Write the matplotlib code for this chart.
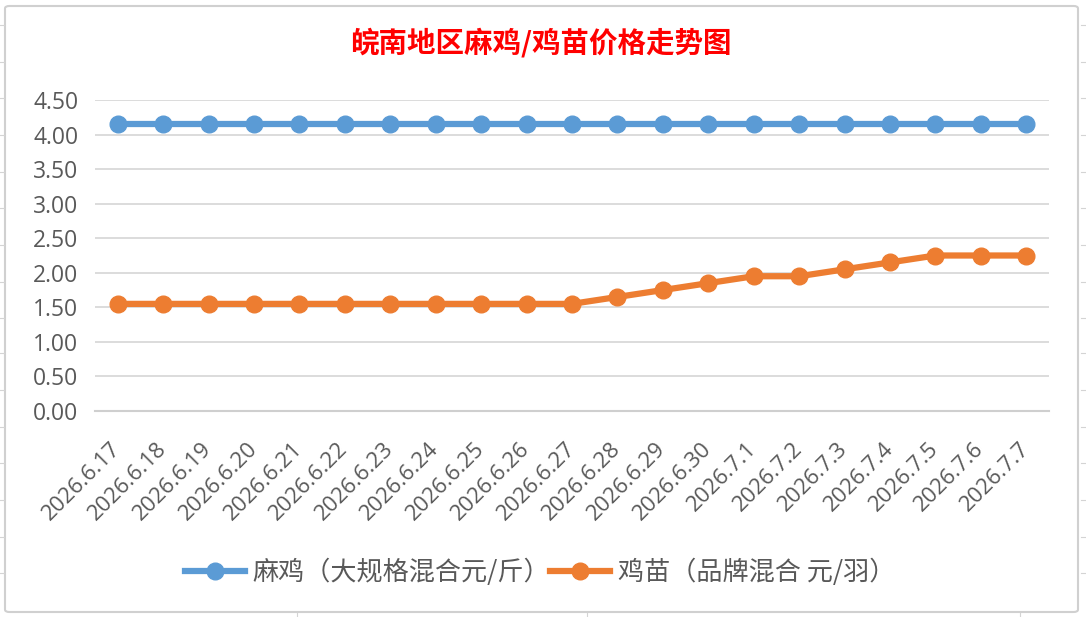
import matplotlib
matplotlib.use('Agg')
import matplotlib.pyplot as plt
import matplotlib.transforms as mtransforms
from matplotlib.patches import FancyBboxPatch
from matplotlib.lines import Line2D

plt.rcParams['font.family'] = ['Open Sans', 'Noto Sans CJK SC', 'DejaVu Sans']

dates = ['2026.6.17', '2026.6.18', '2026.6.19', '2026.6.20', '2026.6.21', '2026.6.22',
         '2026.6.23', '2026.6.24', '2026.6.25', '2026.6.26', '2026.6.27', '2026.6.28',
         '2026.6.29', '2026.6.30', '2026.7.1', '2026.7.2', '2026.7.3', '2026.7.4',
         '2026.7.5', '2026.7.6', '2026.7.7']
maji = [4.15] * 21
jimiao = [1.55, 1.55, 1.55, 1.55, 1.55, 1.55, 1.55, 1.55, 1.55, 1.55, 1.55,
          1.65, 1.75, 1.85, 1.95, 1.95, 2.05, 2.15, 2.25, 2.25, 2.25]
yticks = [0.0, 0.5, 1.0, 1.5, 2.0, 2.5, 3.0, 3.5, 4.0, 4.5]

W, H = 1086, 617
fig = plt.figure(figsize=(W / 100, H / 100), dpi=100)

# spreadsheet cell lines peeking out around the chart
cell_y = [25, 62, 98, 135, 172, 208, 245, 282, 318, 353, 390, 427, 463, 500, 537, 573]
for cy in cell_y:
    fig.add_artist(Line2D([0, 4 / W], [1 - cy / H] * 2, color='#d4d4d4', lw=0.8))
    fig.add_artist(Line2D([1081 / W, 1], [1 - cy / H] * 2, color='#d4d4d4', lw=0.8))
for cx in [297, 587, 1020]:
    fig.add_artist(Line2D([cx / W] * 2, [0, 4 / H], color='#d4d4d4', lw=0.8))

# chart area border
border = FancyBboxPatch((5 / W, 5 / H), 1073 / W, 606 / H,
                        boxstyle='round,pad=0,rounding_size=0.004',
                        transform=fig.transFigure, facecolor='white',
                        edgecolor='#d0d0d0', lw=1.5, zorder=0)
fig.add_artist(border)

ax = fig.add_axes([95 / W, 1 - 411 / H, 954 / W, 311 / H])
ax.set_facecolor('none')
x = list(range(len(dates)))
ax.plot(x, maji, color='#5B9BD5', lw=4.5, marker='o', markersize=12,
        label='麻鸡（大规格混合元/斤）', zorder=3)
ax.plot(x, jimiao, color='#ED7D31', lw=4.5, marker='o', markersize=12,
        label='鸡苗（品牌混合 元/羽）', zorder=3)

ax.set_xlim(-0.5, len(dates) - 0.5)
ax.set_ylim(0, 4.5)
ax.set_yticks(yticks)
ax.set_yticklabels(['%.2f' % v for v in yticks], fontsize=16.5, color='#595959')
ax.set_xticks(x)
ax.set_xticklabels(dates, rotation=45, ha='right', va='center', rotation_mode='anchor',
                   fontsize=16, color='#595959')
shift = mtransforms.ScaledTranslation(10 / 100, 0, fig.dpi_scale_trans)
for lab in ax.get_xticklabels():
    lab.set_transform(lab.get_transform() + shift)
ax.tick_params(axis='y', length=0, pad=12)
ax.tick_params(axis='x', length=0, pad=25)
ax.grid(axis='y', color='#d9d9d9', lw=1.3)
ax.set_axisbelow(True)
for s in ['top', 'right', 'left']:
    ax.spines[s].set_visible(False)
ax.spines['bottom'].set_color('#cfcfcf')
ax.spines['bottom'].set_linewidth(1.5)

fig.text(541 / W, 1 - 43 / H, '皖南地区麻鸡/鸡苗价格走势图', ha='center', va='center',
         fontsize=20.5, color='#ff0000', fontweight='bold',
         family=['Noto Sans CJK SC', 'DejaVu Sans'])

fig.legend(loc='center', bbox_to_anchor=(540 / W, 1 - 572 / H), ncol=2, frameon=False,
           prop={'family': ['Noto Sans CJK SC', 'DejaVu Sans'], 'size': 18.8},
           labelcolor='#595959', handlelength=2.3, handletextpad=0.3, columnspacing=0.0)

fig.savefig('out.png', dpi=100)
